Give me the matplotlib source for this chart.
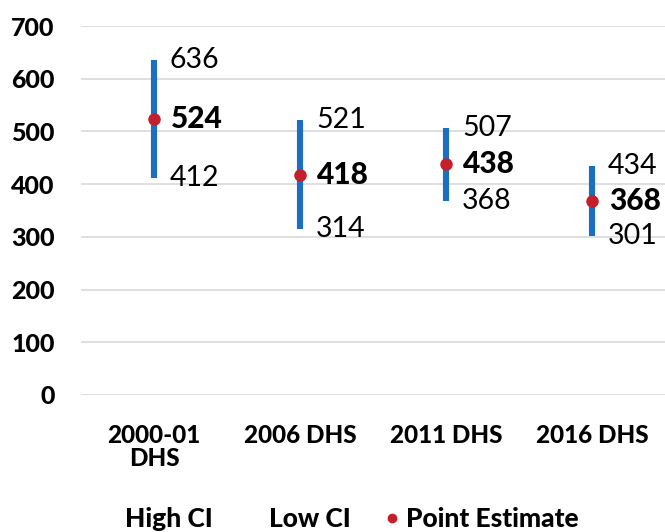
import matplotlib
matplotlib.use("Agg")
import matplotlib.pyplot as plt
from matplotlib.lines import Line2D

categories = ["2000-01\nDHS", "2006 DHS", "2011 DHS", "2016 DHS"]
high_ci = [636, 521, 507, 434]
point_est = [524, 418, 438, 368]
low_ci = [412, 314, 368, 301]
yticks = [0, 100, 200, 300, 400, 500, 600, 700]

plt.rcParams['font.family'] = ['Lato', 'DejaVu Sans']
W = 'black'

fig = plt.figure(figsize=(6.65, 5.32), dpi=100)
ax = fig.add_axes([81/665, 1-395/532, 1-81/665, (395-26)/532])

blue = "#1b6ec2"
red = "#c4202c"
x = list(range(len(categories)))

ax.vlines(x, low_ci, high_ci, color=blue, lw=4.4, zorder=3)
ax.plot(x, point_est, 'o', color=red, ms=8, zorder=4, ls='none')

for xi, h, p, l in zip(x, high_ci, point_est, low_ci):
    ax.annotate(str(h), (xi, h), xytext=(11.5, 0), textcoords='offset points',
                va='center', ha='left', fontsize=20.5)
    ax.annotate(str(p), (xi, p), xytext=(12, 0), textcoords='offset points',
                va='center', ha='left', fontsize=21.5, fontweight=W)
    ax.annotate(str(l), (xi, l), xytext=(11.5, 0), textcoords='offset points',
                va='center', ha='left', fontsize=20.5)

ax.set_xlim(-0.5, len(categories) - 0.5)
ax.set_ylim(0, 700)
ax.set_yticks(yticks)
ax.set_yticklabels([str(v) for v in yticks], fontsize=18, fontweight=W)
ax.set_xticks(x)
ax.set_xticklabels(categories, fontsize=17.5, fontweight=W, linespacing=1.0, va='top')
ax.tick_params(axis='y', length=0, pad=19)
ax.tick_params(axis='x', length=0, pad=21)
ax.grid(axis='y', color='#d9d9d9', lw=1.2, zorder=0)
ax.set_axisbelow(True)
for s in ax.spines.values():
    s.set_visible(False)

handles = [Line2D([], [], ls='none', marker=None),
           Line2D([], [], ls='none', marker=None),
           Line2D([], [], ls='none', marker='o', color=red, ms=6)]
leg = fig.legend(handles, ["High CI", "Low CI", "Point Estimate"], ncol=3,
                 loc='center', bbox_to_anchor=(342/665, 1-519/532), frameon=False,
                 prop={'size': 19, 'weight': W}, handlelength=0.45,
                 handletextpad=0.3, columnspacing=1.35)

fig.savefig("out.png", dpi=100)
